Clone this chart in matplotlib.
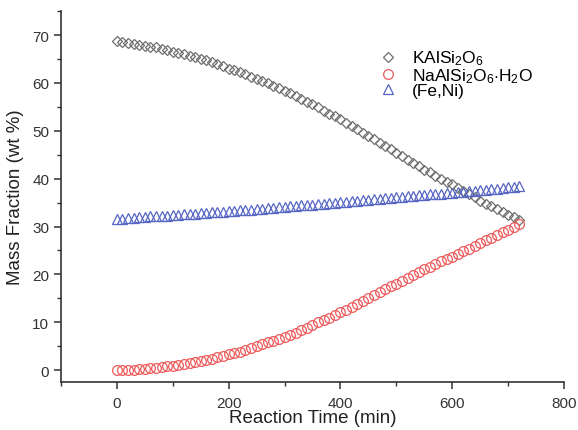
import numpy as np
import matplotlib
matplotlib.use("Agg")
import matplotlib.pyplot as plt

plt.rcParams['font.family'] = ['Liberation Sans', 'DejaVu Sans']
plt.rcParams['mathtext.fontset'] = 'custom'
plt.rcParams['mathtext.rm'] = 'Liberation Sans'
plt.rcParams['mathtext.it'] = 'Liberation Sans'

# reaction time, every 10 min
time_min = np.arange(0, 721, 10)

kalsi2o6 = [68.7, 68.6, 68.4, 68.2, 68.0, 67.8, 67.5, 67.4, 67.1, 66.8, 66.5,
            66.3, 66.0, 65.7, 65.4, 65.0, 64.7, 64.3, 63.9, 63.5, 63.0,
            62.6, 62.2, 61.8, 61.3, 60.9, 60.4, 59.9, 59.4, 58.9, 58.3,
            57.8, 57.2, 56.6, 56.1, 55.5, 54.9, 54.2, 53.6, 53.0, 52.4,
            51.7, 51.0, 50.3, 49.6, 48.9, 48.2, 47.5, 46.8, 46.1, 45.4,
            44.7, 44.0, 43.3, 42.6, 41.9, 41.3, 40.6, 40.0, 39.4, 38.8,
            38.1, 37.4, 36.7, 36.1, 35.4, 34.8, 34.2, 33.6, 33.0, 32.4, 31.9, 31.4]

nalsi2o6_h2o = [0.0, 0.0, 0.1, 0.1, 0.2, 0.3, 0.4, 0.5, 0.6, 0.8, 0.9,
                1.1, 1.3, 1.5, 1.7, 1.9, 2.1, 2.4, 2.7, 3.0, 3.3,
                3.6, 3.9, 4.3, 4.7, 5.1, 5.5, 5.8, 6.2, 6.6, 7.0,
                7.4, 7.8, 8.3, 8.8, 9.4, 10.0, 10.5, 11.0, 11.5, 12.1,
                12.6, 13.2, 13.8, 14.4, 15.0, 15.6, 16.3, 16.9, 17.5, 18.1,
                18.7, 19.3, 19.9, 20.5, 21.1, 21.6, 22.2, 22.7, 23.2, 23.7,
                24.2, 24.8, 25.4, 26.0, 26.6, 27.2, 27.7, 28.3, 28.8, 29.3, 29.8, 30.5]

fe_ni = [31.5, 31.6, 31.7, 31.8, 31.9, 32.0, 32.1, 32.2, 32.2, 32.3, 32.4,
         32.5, 32.6, 32.6, 32.7, 32.8, 32.9, 33.0, 33.0, 33.1, 33.2,
         33.3, 33.4, 33.4, 33.5, 33.6, 33.7, 33.8, 33.9, 34.0, 34.1,
         34.2, 34.3, 34.4, 34.5, 34.6, 34.7, 34.8, 34.9, 35.0, 35.1,
         35.2, 35.3, 35.4, 35.5, 35.6, 35.7, 35.8, 35.9, 36.0, 36.1,
         36.2, 36.3, 36.4, 36.5, 36.6, 36.7, 36.8, 36.9, 37.0, 37.1,
         37.2, 37.3, 37.4, 37.5, 37.6, 37.7, 37.8, 37.9, 38.0, 38.2, 38.3, 38.4]

fig = plt.figure(figsize=(5.78, 4.31), dpi=100)
ax = fig.add_axes([0.1055, 0.111, 0.8703, 0.861])

ax.plot(time_min, kalsi2o6, linestyle='none', marker='D', ms=5.5, mfc='none',
        mec='#6e6e6e', mew=0.9, label=r'KAlSi$_2$O$_6$')
ax.plot(time_min, nalsi2o6_h2o, linestyle='none', marker='o', ms=7, mfc='none',
        mec='#ee5a5a', mew=0.9, label=r'NaAlSi$_2$O$_6$$\cdot$H$_2$O')
ax.plot(time_min, fe_ni, linestyle='none', marker='^', ms=6.5, mfc='none',
        mec='#5566c4', mew=0.9, label='(Fe,Ni)')

ax.set_xlim(-100, 800)
ax.set_ylim(-2.5, 75)
ax.set_xticks([0, 200, 400, 600, 800])
ax.set_xticks([-100, 100, 300, 500, 700], minor=True)
ax.set_yticks(range(0, 71, 10))
ax.set_yticks(range(5, 76, 10), minor=True)

for s in ['top', 'right']:
    ax.spines[s].set_visible(False)
for s in ['left', 'bottom']:
    ax.spines[s].set_color('#333333')
    ax.spines[s].set_linewidth(1.2)
ax.tick_params(which='major', length=5, width=1.1, color='#333333',
               labelsize=11, labelcolor='#333333', direction='out')
ax.tick_params(axis='x', which='major', pad=5)
ax.tick_params(which='minor', length=3, width=1.0, color='#333333', direction='out')

ax.set_xlabel('Reaction Time (min)', fontsize=13.5, color='#222222', labelpad=-1)
ax.set_ylabel('Mass Fraction (wt %)', fontsize=13.5, color='#222222', labelpad=6)

ax.legend(loc='upper left', bbox_to_anchor=(0.613, 0.922), frameon=False,
          fontsize=12.5, handlelength=1.2, handletextpad=0.75, labelspacing=-0.08,
          borderpad=0)

fig.savefig('out.png', dpi=100)
